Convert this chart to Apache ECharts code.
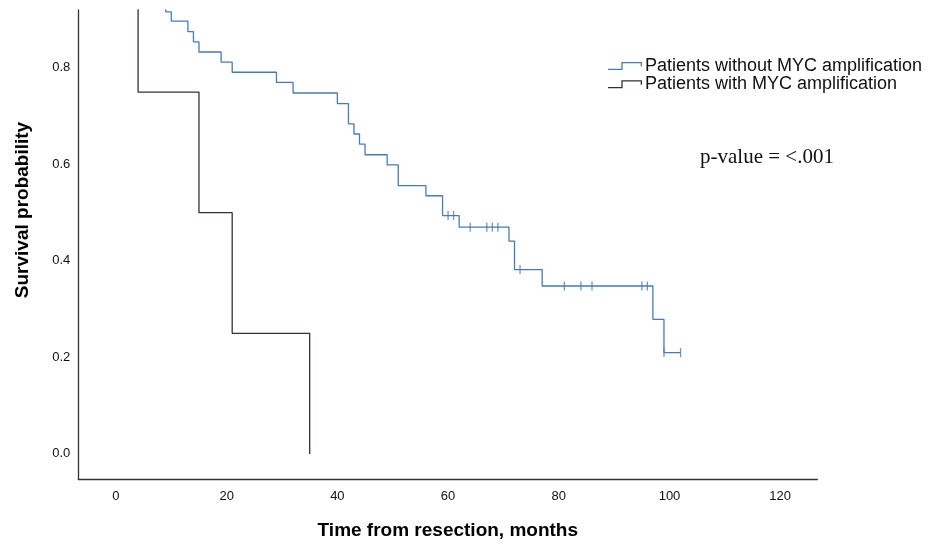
<!DOCTYPE html>
<html>
<head>
<meta http-equiv="Content-Type" content="text/html; charset=utf-8" />
<title>Survival by MYC amplification</title>
<style type="text/css">
  html {height:100%}
  body {
    height:100%;
    margin: 0px;
    padding: 0px;
    background: #fff;}
  #main {
    width: 935px;
    height: 545px;}
</style>
<script type="text/javascript" src="https://cdn.jsdelivr.net/npm/echarts@6.0.0/dist/echarts.min.js"></script>
</head>
<body>
<div id="main"></div>
<script type="text/javascript">
// tick labels
var xTicks = [0, 20, 40, 60, 80, 100, 120];
var yTicks = [0, 0.2, 0.4, 0.6, 0.8];

// patients without MYC amplification (time in months, survival)
var noMycTimes = [0, 9, 10, 13, 14, 15, 19, 21, 29, 32, 40, 42, 43, 44, 45, 49, 51, 56, 59, 62, 71, 72, 77, 97, 99, 102];
var noMycSurv = [1, 0.916, 0.897, 0.875, 0.854, 0.833, 0.812, 0.791, 0.770, 0.748, 0.726, 0.684, 0.663, 0.642, 0.620,
                 0.599, 0.556, 0.535, 0.494, 0.470, 0.441, 0.382, 0.348, 0.279, 0.210, 0.210];
// censored cases (tick marks)
var noMycCensTimes = [60, 61, 64, 67, 68, 69, 73, 81, 84, 86, 95, 96, 99, 102];
var noMycCensSurv = [0.494, 0.494, 0.470, 0.470, 0.470, 0.470, 0.382, 0.348, 0.348, 0.348, 0.348, 0.348, 0.210, 0.210];

// patients with MYC amplification
var mycTimes = [0, 4, 15, 21, 35];
var mycSurv = [1, 0.75, 0.5, 0.25, 0];

var seriesNames = ['Patients without MYC amplification', 'Patients with MYC amplification'];
var colors = ['#4a7ab4', '#2b3535'];

function pairs(xs, ys) {
  var out = [];
  for (var i = 0; i < xs.length; i++) out.push([xs[i], ys[i]]);
  return out;
}

// little step shape used as legend icon
var stepIcon = 'path://M0,6.7 L13.35,6.7 L13.35,0 L34,0 L34,4.5 L32.7,4.5 L32.7,1.3 L14.65,1.3 L14.65,8 L0,8 Z';

var myChart = echarts.init(document.getElementById('main'), null, {renderer: 'canvas'});

myChart.setOption({
  animation: false,
  backgroundColor: '#ffffff',
  grid: {
    left: 78.3,
    right: 117.7,
    top: 10,
    bottom: 64
  },
  legend: {
    orient: 'vertical',
    left: 603,
    top: 52,
    itemWidth: 34,
    itemHeight: 8,
    itemGap: 0.3,
    icon: stepIcon,
    selectedMode: false,
    data: [
      {name: seriesNames[0], itemStyle: {color: colors[0]}},
      {name: seriesNames[1], itemStyle: {color: colors[1]}}
    ],
    textStyle: {
      fontFamily: 'Liberation Sans',
      fontSize: 18,
      lineHeight: 18,
      color: '#111',
      padding: [0, 0, 0, -2]
    }
  },
  xAxis: {
    type: 'value',
    min: -6.8,
    max: 126.7,
    name: 'Time from resection, months',
    nameLocation: 'middle',
    nameGap: 42,
    nameTextStyle: {
      fontFamily: 'Liberation Sans',
      fontWeight: 'bold',
      fontSize: 19,
      color: '#000'
    },
    axisLine: {show: true, onZero: false, lineStyle: {color: '#333', width: 1.3}},
    axisTick: {show: false},
    splitLine: {show: false},
    axisLabel: {
      customValues: xTicks,
      margin: 11,
      fontFamily: 'Liberation Sans',
      fontSize: 13,
      color: '#111'
    }
  },
  yAxis: {
    type: 'value',
    min: -0.052,
    max: 0.92,
    axisLine: {show: true, onZero: false, lineStyle: {color: '#333', width: 1.3}},
    axisTick: {show: false},
    splitLine: {show: false},
    axisLabel: {
      customValues: yTicks,
      margin: 8,
      fontFamily: 'Liberation Sans',
      fontSize: 13,
      color: '#111',
      formatter: function (v) { return v.toFixed(1); }
    }
  },
  graphic: [{
    type: 'text',
    x: 23,
    y: 210,
    rotation: Math.PI / 2,
    style: {
      text: 'Survival probability',
      font: 'bold 19px "Liberation Sans"',
      fill: '#000',
      align: 'center',
      verticalAlign: 'middle'
    }
  }, {
    type: 'text',
    x: 700,
    y: 157,
    style: {
      text: 'p-value = <.001',
      font: '21px "Liberation Serif"',
      fill: '#111',
      align: 'left',
      verticalAlign: 'middle'
    }
  }],
  series: [{
    name: seriesNames[0],
    type: 'line',
    step: 'end',
    showSymbol: false,
    data: pairs(noMycTimes, noMycSurv),
    itemStyle: {color: colors[0]},
    lineStyle: {color: colors[0], width: 1.3}
  }, {
    name: seriesNames[1],
    type: 'line',
    step: 'end',
    showSymbol: false,
    data: pairs(mycTimes, mycSurv),
    itemStyle: {color: colors[1]},
    lineStyle: {color: colors[1], width: 1.3}
  }, {
    name: 'censored',
    type: 'scatter',
    symbol: 'rect',
    symbolSize: [1.3, 9],
    data: pairs(noMycCensTimes, noMycCensSurv),
    itemStyle: {color: colors[0]},
    z: 3
  }]
});
</script>
</body>
</html>
